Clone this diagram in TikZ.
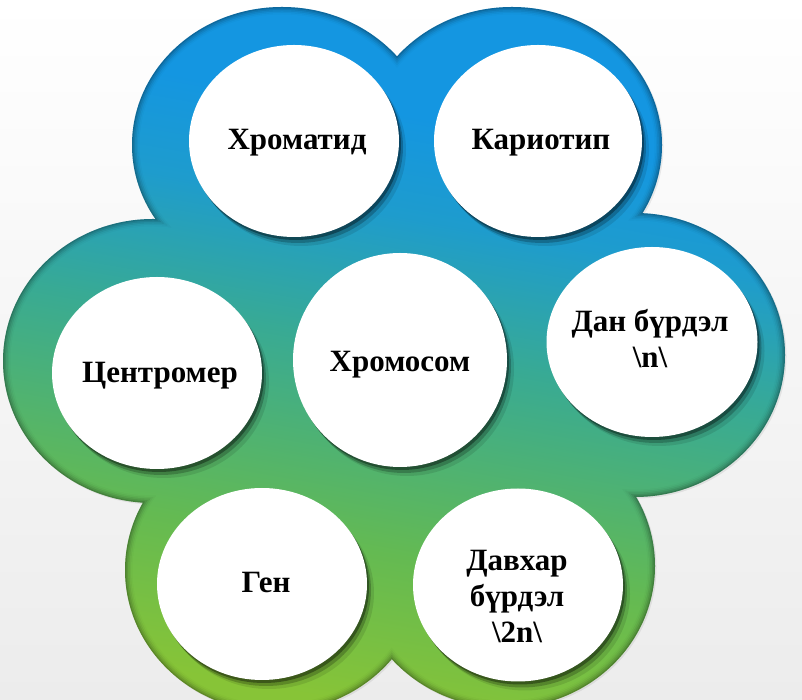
\documentclass[tikz,border=0pt]{standalone}
\usepackage{fontspec}
\setmainfont{Liberation Serif}
\usetikzlibrary{shapes.geometric,shadows}
\definecolor{gA}{RGB}{135,196,55}
\definecolor{gB}{RGB}{100,186,82}
\definecolor{gC}{RGB}{56,170,148}
\definecolor{gD}{RGB}{30,156,205}
\definecolor{gE}{RGB}{20,150,225}
\definecolor{bgbot}{RGB}{236,236,236}
\pgfdeclareverticalshading{blobsh}{100bp}{color(0bp)=(gA); color(25bp)=(gA); color(35.7bp)=(gB); color(50bp)=(gC); color(59.3bp)=(gD); color(66.4bp)=(gE); color(75bp)=(gE); color(100bp)=(gE)}
\newcommand\myblob[1]{%
 (282,555) ellipse [x radius=150pt-#1pt, y radius=138pt-#1pt]
 (512,555) ellipse [x radius=150pt-#1pt, y radius=138pt-#1pt]
 (153,339) ellipse [x radius=150pt-#1pt, y radius=142pt-#1pt]
 (635,345) ellipse [x radius=150pt-#1pt, y radius=142pt-#1pt]
 (275,130) ellipse [x radius=150pt-#1pt, y radius=142pt-#1pt]
 (505,134) ellipse [x radius=150pt-#1pt, y radius=142pt-#1pt]
 (395,345) ellipse [x radius=175pt-#1pt, y radius=175pt-#1pt]
}
\tikzset{
 blobshade/.style={shading=blobsh, shading angle=-10},
 bub/.style={ellipse, fill=white, inner sep=0pt, minimum width=210pt, minimum height=192pt,
   drop shadow={shadow xshift=2pt, shadow yshift=-3pt, opacity=.35, fill=black},
   drop shadow={shadow xshift=4pt, shadow yshift=-6pt, opacity=.22, fill=black},
   drop shadow={shadow xshift=7pt, shadow yshift=-9pt, opacity=.1, fill=black}},
 lab/.style={font=\bfseries\fontsize{31}{36}\selectfont, align=center, inner sep=0pt, anchor=base, text=black}
}
\begin{document}
\begin{tikzpicture}[x=1pt,y=1pt]
\useasboundingbox (0,0) rectangle (802,700);
\shade[top color=white, bottom color=bgbot] (0,0) rectangle (802,700);
% faint outer shadow
\fill[black, opacity=.07, xshift=1.5pt, yshift=-1.5pt] \myblob{0};
% blob with inner rim shadow
\foreach \er/\al in {0/0.30, 1.5/0.20, 3/0.12, 4.5/0.06, 6/0.02, 7.5/0} {
  \begin{scope}
    \clip \myblob{\er};
    \shade[blobshade] (0,0) rectangle (802,700);
    \fill[black, opacity=\al] (0,0) rectangle (802,700);
  \end{scope}
}
% white circles
\node[bub] (c1) at (294,559) {};
\node[bub, minimum width=208pt] (c2) at (538,559) {};
\node[bub] (c3) at (157,327) {};
\node[bub, minimum width=214pt, minimum height=214pt] (c4) at (400,340) {};
\node[bub, minimum width=211pt, minimum height=190pt] (c5) at (652,358) {};
\node[bub] (c6) at (262,116) {};
\node[bub, minimum height=193pt] (c7) at (518,115) {};
% texts
\node[lab] (t1) at (297,550) {Хроматид};
\node[lab] (t2) at (541,550) {Кариотип};
\node[lab] (t3) at (160,317) {Центромер};
\node[lab] (t4) at (400,328) {Хромосом};
\node[lab] (t5) at (650,332) {Дан бүрдэл\\\textbackslash n\textbackslash};
\node[lab] (t6) at (266,107) {Ген};
\node[lab] (t7) at (517,57) {Давхар\\бүрдэл\\\textbackslash 2n\textbackslash};
\end{tikzpicture}
\end{document}
